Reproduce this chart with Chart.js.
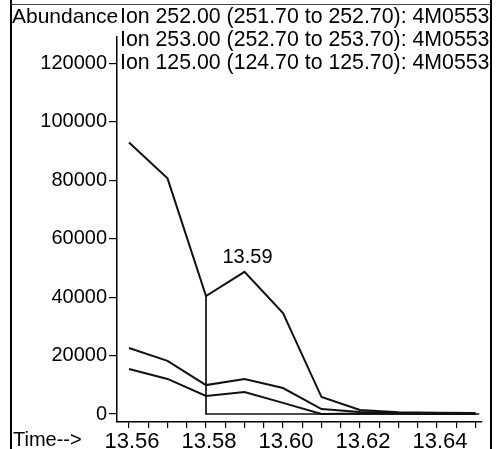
<!DOCTYPE html>
<html>
<head>
<meta charset="utf-8">
<script src="https://cdn.jsdelivr.net/npm/chart.js@4.4.1/dist/chart.umd.min.js"></script>
<style>
  html, body { margin: 0; padding: 0; background: #fff; }
  #wrap { position: relative; width: 499px; height: 449px; }
</style>
</head>
<body>
<div id="wrap"><canvas id="ticChart" width="499" height="449"></canvas></div>
<script>
// retention times (min) and abundances
const times = [13.56, 13.57, 13.58, 13.59, 13.60, 13.61, 13.62, 13.63, 13.64, 13.65];
const ion252 = [93000, 80700, 40400, 48700, 34600, 5800, 1400, 600, 400, 300];
const ion253 = [22600, 18200, 9900, 12000, 8900, 1700, 700, 300, 200, 200];
const ion125 = [15400, 12000, 6200, 7500, 3800, 0, 200, 100, 0, 0];

// integration baseline drawn by the data system
const baseTimes = [13.58, 13.58, 13.651];
const baseValues = [40400, 0, 0];

const ionLabels = [
    'Ion 252.00 (251.70 to 252.70): 4M0553',
    'Ion 253.00 (252.70 to 253.70): 4M0553',
    'Ion 125.00 (124.70 to 125.70): 4M0553'
];
const peakTime = 13.59;
const peakValue = 48700;
const peakLabel = '13.59';

const yTicks = [0, 20000, 40000, 60000, 80000, 100000, 120000];
const xTicks = [13.56, 13.565, 13.57, 13.575, 13.58, 13.585, 13.59, 13.595, 13.60,
                13.605, 13.61, 13.615, 13.62, 13.625, 13.63, 13.635, 13.64, 13.645, 13.65];
const xMajor = ['13.56', '13.58', '13.60', '13.62', '13.64'];

const FONT = '"Liberation Sans", Arial, Helvetica, sans-serif';

function pts(xs, ys) {
    return xs.map((x, i) => ({ x: x, y: ys[i] }));
}

const textPlugin = {
    id: 'scanText',
    afterDraw(chart) {
        const ctx = chart.ctx;
        ctx.save();
        // frame
        ctx.strokeStyle = '#000';
        ctx.lineWidth = 2;
        ctx.beginPath();
        ctx.moveTo(11, 0); ctx.lineTo(11, 449);
        ctx.moveTo(491, 0); ctx.lineTo(491, 449);
        ctx.stroke();
        ctx.lineWidth = 1;
        ctx.strokeStyle = '#444';
        ctx.beginPath();
        ctx.moveTo(11, 4.5); ctx.lineTo(491, 4.5);
        ctx.stroke();

        ctx.fillStyle = '#000';
        ctx.textBaseline = 'middle';
        ctx.textAlign = 'left';
        ctx.font = '21px ' + FONT;
        ctx.fillText('Abundance', 12, 17);
        ctx.font = '21.3px ' + FONT;
        ionLabels.forEach((t, i) => ctx.fillText(t, 120, 17 + i * 23));

        ctx.font = '20px ' + FONT;
        ctx.fillText('Time-->', 13, 440);

        const xs = chart.scales.x, ys = chart.scales.y;
        ctx.textAlign = 'center';
        ctx.fillText(peakLabel, xs.getPixelForValue(peakTime) + 3, ys.getPixelForValue(peakValue) - 14);
        ctx.restore();
    }
};

const lineStyle = { borderColor: '#111', borderWidth: 2, pointRadius: 0, tension: 0, fill: false };

new Chart(document.getElementById('ticChart').getContext('2d'), {
    type: 'line',
    data: {
        datasets: [
            Object.assign({ label: ionLabels[0], data: pts(times, ion252) }, lineStyle),
            Object.assign({ label: ionLabels[1], data: pts(times, ion253) }, lineStyle),
            Object.assign({ label: ionLabels[2], data: pts(times, ion125) }, lineStyle),
            Object.assign({ label: 'baseline', data: pts(baseTimes, baseValues) }, lineStyle, { borderWidth: 1.7 })
        ]
    },
    options: {
        responsive: false,
        animation: false,
        devicePixelRatio: 1,
        layout: { padding: { top: 37, right: 17, left: 0, bottom: 0 } },
        plugins: {
            legend: { display: false },
            tooltip: { enabled: false }
        },
        scales: {
            x: {
                type: 'linear',
                min: 13.55688,
                max: 13.65169,
                afterFit: s => { s.height = 27; },
                afterBuildTicks: s => { s.ticks = xTicks.map(v => ({ value: v })); },
                border: { display: true, color: '#000', width: 1.5 },
                grid: { display: true, drawOnChartArea: false, drawTicks: true, tickLength: 6, color: '#000', lineWidth: 1.2 },
                ticks: {
                    autoSkip: false,
                    maxRotation: 0,
                    padding: 1,
                    labelOffset: 3,
                    color: '#000',
                    font: { family: FONT, size: 22 },
                    callback: v => {
                        const s = Number(v).toFixed(3);
                        const m = Number(v).toFixed(2);
                        return (s.endsWith('0') && xMajor.includes(m)) ? m : '';
                    }
                }
            },
            y: {
                min: -2740,
                max: 129100,
                afterFit: s => { s.width = 117; },
                afterBuildTicks: s => { s.ticks = yTicks.map(v => ({ value: v })); },
                border: { display: true, color: '#000', width: 1.5 },
                grid: { display: true, drawOnChartArea: false, drawTicks: true, tickLength: 8, color: '#000', lineWidth: 1.2 },
                ticks: {
                    padding: 2,
                    color: '#000',
                    font: { family: FONT, size: 20 },
                    callback: v => String(v)
                }
            }
        }
    },
    plugins: [textPlugin]
});
</script>
</body>
</html>
